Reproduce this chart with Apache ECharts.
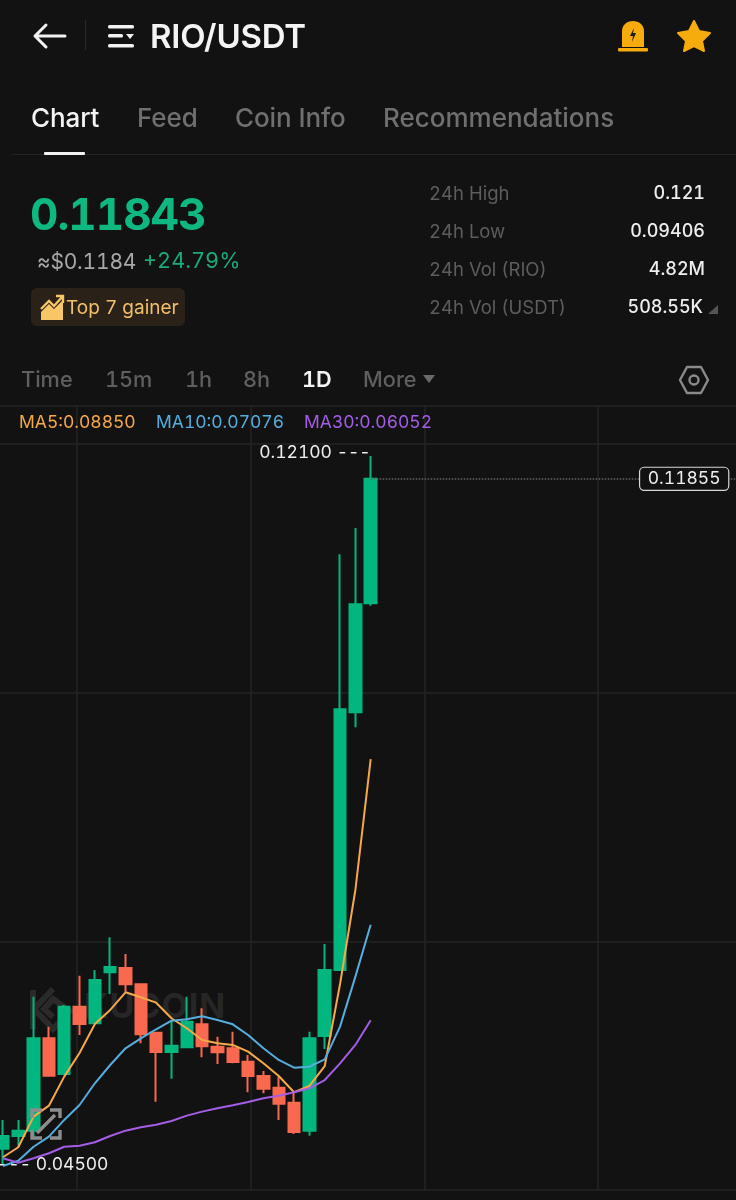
<!DOCTYPE html>
<html>
<head>
<meta charset="utf-8">
<title>RIO/USDT</title>
<script src="https://cdn.jsdelivr.net/npm/echarts@6/dist/echarts.min.js"></script>
<style>
html,body{margin:0;padding:0;background:#121212;width:736px;height:1200px;overflow:hidden;font-family:Inter,"Noto Sans",sans-serif;font-variant-numeric:tabular-nums}
#chart{position:absolute;left:0;top:0;width:736px;height:1200px}
.t{position:absolute;white-space:nowrap;line-height:1;transform:translateY(-50%)}
.r{transform:translate(-100%,-50%)}
.tab{font-size:26px;font-weight:500;color:#6f6f6f;top:118px;letter-spacing:-.1px}
.lab{font-size:18.5px;color:#5d5d5d;left:429px}
.val{font-size:18px;font-weight:500;color:#eee}
.per{font-size:21.7px;font-weight:500;color:#5f5f5f;top:380px}
svg{position:absolute}
</style>
</head>
<body>
<!-- 水印 -->
<svg style="left:28px;top:985px" width="50" height="50" viewBox="0 0 50 50" fill="none" stroke="#2a2a2a" stroke-width="6"><path d="M5 5V44M25 4L6 24L25 44L42 26L25 14L16 24L25 32"/></svg>
<div class="t" style="left:84px;top:1006px;font-size:34px;font-weight:700;color:#262626;letter-spacing:1px">KUCOIN</div>

<div id="chart"></div>

<svg style="left:32px;top:22px" width="36" height="28" viewBox="0 0 36 28" fill="none" stroke="#f2f2f2" stroke-width="3" stroke-linecap="round" stroke-linejoin="round"><path d="M33 14H3M14 3L3 14L14 25"/></svg>
<div style="position:absolute;left:85px;top:20px;width:1px;height:30px;background:#2a2a2a"></div>
<svg style="left:106px;top:24px" width="30" height="24" viewBox="0 0 30 24" fill="#f2f2f2"><rect x="2" y="1" width="26" height="3.4" rx="1.5"/><rect x="2" y="10" width="15" height="3.4" rx="1.5"/><rect x="2" y="20" width="26" height="3.4" rx="1.5"/><path d="M20 10H28L24 15Z"/></svg>
<div class="t" style="left:150px;top:36px;font-size:33px;font-weight:600;color:#f4f4f4;letter-spacing:-.2px">RIO/USDT</div>
<svg style="left:616px;top:18px" width="34" height="36" viewBox="0 0 34 36"><path d="M6 29V13C6 7 11 3 17 3S28 7 28 13V29Z" fill="#f5ac0c"/><rect x="2" y="30" width="30" height="3.4" rx="1.2" fill="#f5ac0c"/><path d="M18 10L14 18H17L16 24L20 15H17Z" fill="#1a1a1a"/></svg>
<svg style="left:675px;top:18px" width="38" height="36" viewBox="0 0 38 36"><path d="M19 3L24 13L35 15L27 23L29 33L19 28L9 33L11 23L3 15L14 13Z" fill="#f5ac0c" stroke="#f5ac0c" stroke-width="2" stroke-linejoin="round"/></svg>

<div class="t tab" style="left:31px;color:#f4f4f4">Chart</div>
<div class="t tab" style="left:137px">Feed</div>
<div class="t tab" style="left:235px">Coin Info</div>
<div class="t tab" style="left:383px;letter-spacing:0">Recommendations</div>
<div style="position:absolute;left:12px;right:0;top:154px;height:1px;background:#242424"></div>
<div style="position:absolute;left:44px;top:152px;width:41px;height:3px;background:#f2f2f2;border-radius:1px"></div>

<div class="t" style="left:30px;top:214px;font-size:44px;font-weight:700;color:#0fb880;letter-spacing:-1px">0.11843</div>
<div class="t" style="left:37px;top:261px;font-size:21px;color:#a8a8a8;letter-spacing:-.2px">≈$0.1184</div>
<div class="t" style="left:143px;top:261px;font-size:21.7px;color:#1aa97a">+24.79%</div>
<div style="position:absolute;left:31px;top:288px;width:154px;height:38px;background:#2a2118;border-radius:6px"></div>
<svg style="left:39px;top:294px" width="26" height="28" viewBox="0 0 26 28"><path d="M2 26V18L10 10L15 15L24 6V26Z" fill="#f6c667"/><path d="M2 15L10 7L15 12L23 3M17 2H24V9" fill="none" stroke="#f6c667" stroke-width="2.4"/></svg>
<div class="t" style="left:66px;top:307px;font-size:19px;color:#f3c06a">Top 7 gainer</div>

<div class="t lab" style="top:193px">24h High</div>
<div class="t lab" style="top:231px">24h Low</div>
<div class="t lab" style="top:269px">24h Vol (RIO)</div>
<div class="t lab" style="top:307px">24h Vol (USDT)</div>
<div class="t r val" style="left:705px;top:193px">0.121</div>
<div class="t r val" style="left:705px;top:231px">0.09406</div>
<div class="t r val" style="left:705px;top:269px">4.82M</div>
<div class="t r val" style="left:703px;top:307px">508.55K</div>
<svg style="left:707px;top:303px" width="12" height="12" viewBox="0 0 12 12"><path d="M1 11L11 2V11Z" fill="#555"/></svg>

<div class="t per" style="left:21px">Time</div>
<div class="t per" style="left:105px">15m</div>
<div class="t per" style="left:185px">1h</div>
<div class="t per" style="left:243px">8h</div>
<div class="t per" style="left:302px;color:#f4f4f4;font-weight:600">1D</div>
<div class="t per" style="left:363px">More</div>
<svg style="left:422px;top:374px" width="14" height="10" viewBox="0 0 14 10"><path d="M1 1H13L7 9Z" fill="#6a6a6a"/></svg>
<svg style="left:678px;top:364px" width="32" height="32" viewBox="0 0 32 32" fill="none" stroke="#8a8a8a" stroke-width="2.4"><path d="M9 3H23L30 16L23 29H9L2 16Z" stroke-linejoin="round"/><circle cx="16" cy="16" r="4.5"/></svg>

<svg style="left:29px;top:1107px" width="34" height="34" viewBox="0 0 34 34" fill="none" stroke="#8d8d8d" stroke-width="3.4"><path d="M3 11V3H13M21 3H31V11M31 23V31H21M13 31H3V23M12 22L26 8M8 26L12 22" /></svg>

<script>
// K线数据，下标0是图上最左边那根
var opens  = [0.04675,0.04811,0.04868,0.05858,0.05476,0.06197,0.06019,0.06566,0.06612,0.06437,0.05918,0.05712,0.05762,0.06008,0.05768,0.05751,0.05608,0.05454,0.05329,0.05168,0.04868,0.05883,0.06591,0.09353,0.10521];
var closes = [0.04811,0.04868,0.05858,0.05458,0.06197,0.06012,0.06483,0.06623,0.06437,0.05901,0.05712,0.05779,0.06036,0.05773,0.05708,0.05604,0.05454,0.05318,0.05157,0.04854,0.05858,0.06591,0.09385,0.10510,0.11855];
var lows   = [0.04500,0.04693,0.04790,0.05458,0.05476,0.05894,0.06019,0.06333,0.06358,0.05805,0.05179,0.05425,0.05751,0.05655,0.05583,0.05590,0.05280,0.05269,0.04983,0.04833,0.04814,0.05744,0.06591,0.09192,0.10496];
var highs  = [0.04983,0.04983,0.06304,0.05983,0.06215,0.06529,0.06591,0.06941,0.06762,0.06448,0.05918,0.06055,0.06304,0.06180,0.05876,0.05929,0.05679,0.05508,0.05447,0.05286,0.05929,0.06869,0.11046,0.11328,0.12100];
var ma5  = [0.04583,0.04690,0.05018,0.05136,0.05447,0.05701,0.06012,0.06162,0.06351,0.06298,0.06240,0.06073,0.05966,0.05840,0.05805,0.05787,0.05715,0.05590,0.05454,0.05280,0.05347,0.05561,0.06440,0.07448,0.08850];
var ma10 = [0.04490,0.04546,0.04696,0.04804,0.04983,0.05143,0.05376,0.05572,0.05751,0.05858,0.05955,0.06047,0.06062,0.06094,0.06055,0.06008,0.05894,0.05751,0.05626,0.05543,0.05554,0.05633,0.05983,0.06519,0.07076];
var ma30 = [0.04572,0.04525,0.04572,0.04626,0.04696,0.04707,0.04744,0.04811,0.04868,0.04904,0.04932,0.04972,0.05029,0.05072,0.05108,0.05140,0.05176,0.05215,0.05243,0.05280,0.05322,0.05411,0.05590,0.05787,0.06052];
var maNames = ['MA5','MA10','MA30'];
var maColors = ['#f5a94a','#56aede','#a45ee5'];
var maLatest = ['0.08850','0.07076','0.06052'];
var maLeft = [14,151,299];
var lastPrice = 0.11855, topPrice = 0.12100, bottomPrice = 0.04500;

var UP = '#02b67f', DOWN = '#f8694f', LINE = '#252525';
var lead = 6, total = 68; // 左边留6根空位，gridline才能对上
var categories = [];
for(var i=0;i<total;i++) categories.push(String(i));
function pad(arr){
	var res = [], k;
	for(k=0;k<lead;k++) res.push('-');
	return res.concat(arr);
}
var candles = opens.map(function(o,i){ return [o,closes[i],lows[i],highs[i]]; });
var hiIdx = lead+highs.indexOf(topPrice), loIdx = lead+lows.indexOf(bottomPrice);

function maSeries(idx,data){
	return {
		name : maNames[idx],
		type : 'line',
		data : pad(data),
		showSymbol : false,
		silent : true,
		z : 5,
		lineStyle : { color : maColors[idx], width : 2 },
		itemStyle : { color : maColors[idx] }
	};
}
var myChart = echarts.init(document.getElementById('chart'));
var option = {
	animation : false,
	backgroundColor : 'transparent',
	textStyle : { fontFamily : 'Inter' },
	legend : maNames.map(function(n,i){
		return {
			left : maLeft[i], top : 414, padding : 0, itemWidth : 0, itemHeight : 0, icon : 'none',
			selectedMode : false,
			formatter : n+':'+maLatest[i],
			data : [{name:n,textStyle:{color:maColors[i],fontSize:17.5}}]
		};
	}),
	grid : { left : -96.67, top : 406, width : 1042, height : 784, outerBoundsMode : 'none' },
	xAxis : [
		{ type : 'category', data : categories, boundaryGap : true, axisLine:{show:false}, axisTick:{show:false}, axisLabel:{show:false}, splitLine:{show:false} },
		{ type : 'value', min : 0, max : 6, interval : 1, axisLine:{show:false}, axisTick:{show:false}, axisLabel:{show:false}, splitLine:{show:true,lineStyle:{color:LINE,width:1.5}} }
	],
	yAxis : [
		{ type : 'value', min : 0.04232, max : 0.12636, axisLine:{show:false}, axisTick:{show:false}, axisLabel:{show:false}, splitLine:{show:false} },
		{ type : 'value', min : 0, max : 3.153, interval : 1, axisLine:{show:false}, axisTick:{show:false}, axisLabel:{show:false}, splitLine:{show:true,lineStyle:{color:LINE,width:1.5}} }
	],
	series : [
		{
			name : 'RIO/USDT',
			type : 'candlestick',
			data : pad(candles),
			barWidth : 12,
			z : 3,
			itemStyle : { color : UP, color0 : DOWN, borderColor : UP, borderColor0 : DOWN, borderWidth : 2 },
			markLine : {
				silent : true, symbol : 'none', animation : false,
				lineStyle : { color : '#666', type : 'dotted', width : 1.5 },
				label : { show : false },
				data : [ [ {coord:[String(hiIdx),lastPrice]}, {coord:[String(total-1),lastPrice]} ] ]
			},
			markPoint : {
				silent : true, animation : false,
				data : [
					{ coord:[String(hiIdx),topPrice], symbolSize:0, label:{show:true,position:'left',distance:0,offset:[0,-3],color:'#eee',fontSize:17.5,formatter:topPrice.toFixed(5)+' ---'} },
					{ coord:[String(loIdx),bottomPrice], symbolSize:0, label:{show:true,position:'right',distance:0,offset:[-6,0],color:'#eee',fontSize:17.5,formatter:'--- '+bottomPrice.toFixed(5)} },
					{ coord:['50',lastPrice], symbol:'rect', symbolSize:0,
					  label:{show:true,position:'inside',offset:[7,0],color:'#eee',fontSize:17.5,formatter:lastPrice.toFixed(5),
					  	backgroundColor:'#121212',borderColor:'#d8d8d8',borderWidth:1.2,borderRadius:4,padding:[2,8,2,8],width:72,align:'center'} }
				]
			}
		},
		maSeries(0,ma5),
		maSeries(1,ma10),
		maSeries(2,ma30)
	]
};
// 第二组坐标轴只用来画分隔线，需要挂一个空系列
option.series.push({ type:'line', xAxisIndex:1, yAxisIndex:1, data:[], silent:true });
myChart.setOption(option, true);
</script>
</body>
</html>
